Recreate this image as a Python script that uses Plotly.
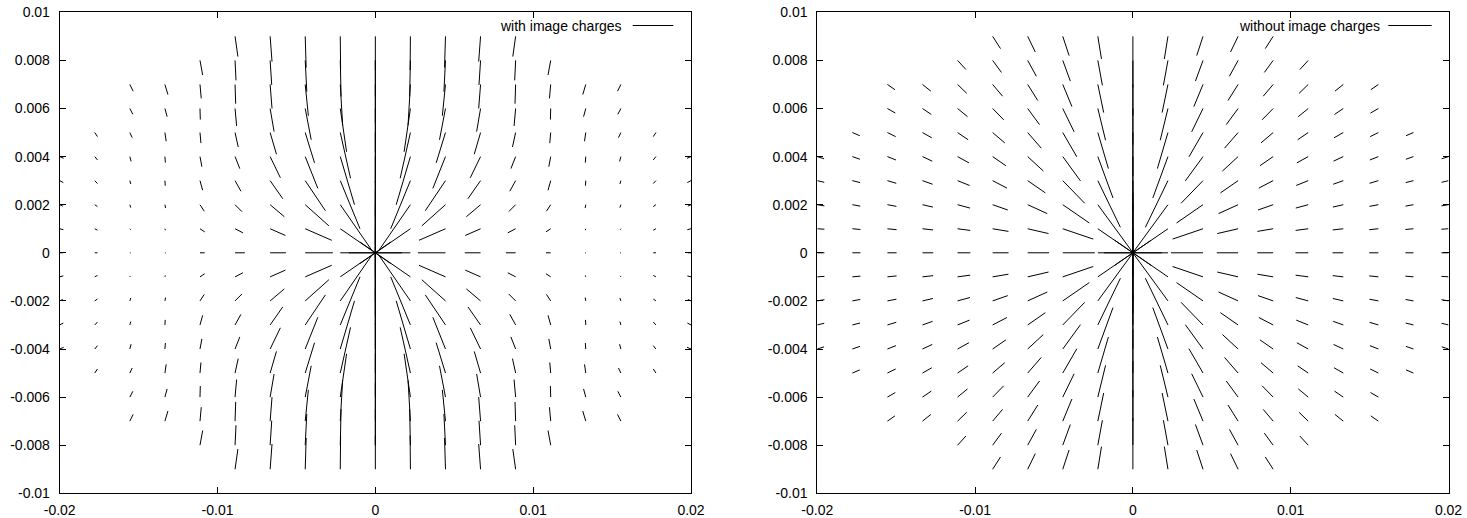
import plotly.graph_objects as go

# Grid (units of 0.001); values are for the quadrant x>=0, y>=0 and are mirrored
x_cols = [0.0, 2.222, 4.444, 6.667, 8.889, 11.111, 13.333, 15.556, 17.778, 20.0]
y_rows = [0, 1, 2, 3, 4, 5, 6, 7, 8, 9]

# "with image charges": |dx|, |dy| of each vector (units of 0.001), pointing to the origin
with_u = [
    [0, 0, 0, 0, 0, 0, 0, 0, 0, 0],
    [3.9, 3.2, 2.0, 1.25, 0.9, 0.65, 0.4, 0.15, 0.05, 0.02],
    [1.75, 1.68, 1.5, 1.28, 0.8, 0.59, 0.38, 0.2, 0.1, 0.06],
    [1.0, 0.97, 0.9, 0.8, 0.65, 0.4, 0.25, 0.12, 0.1, 0.12],
    [0.62, 0.5, 0.44, 0.37, 0.3, 0.2, 0.1, 0.04, 0.06, 0.18],
    [0.3, 0.3, 0.27, 0.17, 0.12, 0.06, 0.02, 0.08, 0.17],
    [0.05, 0.03, 0.04, 0.02, 0.03, 0.08, 0.14, 0.19],
    [0.05, 0.04, 0.06, 0.06, 0.08, 0.15, 0.19, 0.21],
    [0.17, 0.17, 0.17, 0.17, 0.17, 0.17],
    [0.2, 0.23, 0.2, 0.23, 0.25],
]
with_v = [
    [0, 9.0, 4.6, 3.2, 2.5, 2.1, 1.8, 1.6, 1.5, 1.4],
    [0, 1.45, 1.9, 2.0, 2.0, 1.9, 1.8, 1.7, 1.5, 1.4],
    [0, 0.48, 0.88, 1.25, 1.32, 1.26, 1.3, 1.3, 1.3, 1.3],
    [0, 0.28, 0.5, 0.75, 0.88, 0.9, 0.96, 1.0, 1.02, 1.05],
    [0, 0.17, 0.29, 0.44, 0.5, 0.6, 0.73, 0.8, 0.83, 0.84],
    [0, 0.13, 0.27, 0.4, 0.42, 0.44, 0.46, 0.58, 0.61],
    [0, 0.06, 0.14, 0.21, 0.25, 0.36, 0.34, 0.42],
    [0, 0.04, 0.12, 0.14, 0.2, 0.21, 0.24, 0.28],
    [0, 0.06, 0.08, 0.12, 0.14, 0.17],
    [0, 0.04, 0.06, 0.08, 0.07],
]

# "without image charges"
without_u = [
    [0, 0, 0, 0, 0, 0, 0, 0, 0, 0],
    [4.05, 3.37, 2.24, 1.43, 0.96, 0.67, 0.49, 0.37, 0.29, 0.23],
    [2.03, 1.93, 1.68, 1.39, 1.12, 0.89, 0.72, 0.58, 0.48, 0.40],
    [1.35, 1.32, 1.24, 1.12, 0.99, 0.86, 0.75, 0.64, 0.55, 0.48],
    [1.01, 1.00, 0.96, 0.91, 0.84, 0.77, 0.70, 0.63, 0.56, 0.50],
    [0.81, 0.80, 0.79, 0.76, 0.72, 0.67, 0.63, 0.58, 0.53],
    [0.68, 0.67, 0.66, 0.64, 0.62, 0.59, 0.56, 0.53],
    [0.58, 0.58, 0.57, 0.56, 0.54, 0.52, 0.50, 0.48],
    [0.51, 0.51, 0.50, 0.49, 0.48, 0.47],
    [0.45, 0.45, 0.45, 0.44, 0.43],
]
without_v = [
    [0, 9.0, 4.5, 3.0, 2.25, 1.8, 1.5, 1.29, 1.12, 1.0],
    [0, 1.52, 2.01, 1.94, 1.72, 1.50, 1.32, 1.17, 1.04, 0.94],
    [0, 0.43, 0.76, 0.94, 1.01, 1.01, 0.97, 0.92, 0.86, 0.80],
    [0, 0.20, 0.37, 0.51, 0.60, 0.65, 0.67, 0.67, 0.66, 0.65],
    [0, 0.11, 0.22, 0.31, 0.38, 0.43, 0.47, 0.49, 0.50, 0.51],
    [0, 0.07, 0.14, 0.20, 0.26, 0.30, 0.34, 0.37, 0.38],
    [0, 0.05, 0.10, 0.15, 0.19, 0.22, 0.25, 0.28],
    [0, 0.04, 0.07, 0.11, 0.14, 0.17, 0.19, 0.22],
    [0, 0.03, 0.06, 0.08, 0.11, 0.13],
    [0, 0.02, 0.05, 0.07, 0.09],
]

x_tickvals = [-0.02, -0.01, 0, 0.01, 0.02]
x_ticktext = ["-0.02", "-0.01", "0", "0.01", "0.02"]
y_tickvals = [-0.01, -0.008, -0.006, -0.004, -0.002, 0, 0.002, 0.004, 0.006, 0.008, 0.01]
y_ticktext = ["-0.01", "-0.008", "-0.006", "-0.004", "-0.002", "0",
              "0.002", "0.004", "0.006", "0.008", "0.01"]
titles = ["with image charges", "without image charges"]

S = 1e-3


def segments(us, vs):
    xs, ys = [], []
    for i, (ucol, vcol) in enumerate(zip(us, vs)):
        for j, (u, v) in enumerate(zip(ucol, vcol)):
            if i == 0 and j == 0:
                continue
            for sx in ((1,) if i == 0 else (1, -1)):
                for sy in ((1,) if j == 0 else (1, -1)):
                    x0 = sx * x_cols[i] * S
                    y0 = sy * y_rows[j] * S
                    xs += [x0, x0 - sx * u * S, None]
                    ys += [y0, y0 - sy * v * S, None]
    return xs, ys


fig = go.Figure()
for k, (us, vs) in enumerate([(with_u, with_v), (without_u, without_v)]):
    xs, ys = segments(us, vs)
    fig.add_trace(go.Scatter(
        x=xs, y=ys, mode="lines",
        line=dict(color="black", width=1),
        hoverinfo="skip", showlegend=False,
        xaxis="x" if k == 0 else "x2", yaxis="y" if k == 0 else "y2",
    ))

W, H = 1467, 518
xdom = [[59.7 / W, 691.0 / W], [817.3 / W, 1448.5 / W]]
ydom = [(H - 493.3) / H, (H - 12.3) / H]
font = dict(family="Liberation Sans, Arial, sans-serif", size=14, color="black")

axis_common = dict(showgrid=False, zeroline=False, showline=True, linecolor="black",
                   linewidth=1, mirror="allticks", ticks="inside", ticklen=6,
                   tickcolor="black", tickwidth=1, tickfont=font, automargin=False)

layout = dict(
    width=W, height=H, margin=dict(l=0, r=0, t=0, b=0, autoexpand=False),
    plot_bgcolor="white", paper_bgcolor="white", showlegend=False,
    font=font,
)
for k in range(2):
    sfx = "" if k == 0 else "2"
    layout["xaxis" + sfx] = dict(axis_common, domain=xdom[k], range=[-0.02, 0.02],
                                 tickvals=x_tickvals, ticktext=x_ticktext,
                                 anchor="y" + sfx, ticklabelstandoff=4)
    layout["yaxis" + sfx] = dict(axis_common, domain=ydom, range=[-0.01, 0.01],
                                 tickvals=y_tickvals, ticktext=y_ticktext,
                                 anchor="x" + sfx, ticklabelstandoff=6)
fig.update_layout(**layout)

# gnuplot-style key: text followed by a line sample
keys = [(624.0, 632.7, 673.3), (1381.7, 1388.3, 1431.7)]
for k, (tx, l0, l1) in enumerate(keys):
    fig.add_annotation(x=tx / W, y=(H - 26.5) / H, xref="paper", yref="paper",
                       text=titles[k], showarrow=False, xanchor="right",
                       yanchor="middle", font=font)
    fig.add_shape(type="line", xref="paper", yref="paper",
                  x0=l0 / W, x1=l1 / W, y0=(H - 25.5) / H, y1=(H - 25.5) / H,
                  line=dict(color="black", width=1))

fig.write_html("out.html")
